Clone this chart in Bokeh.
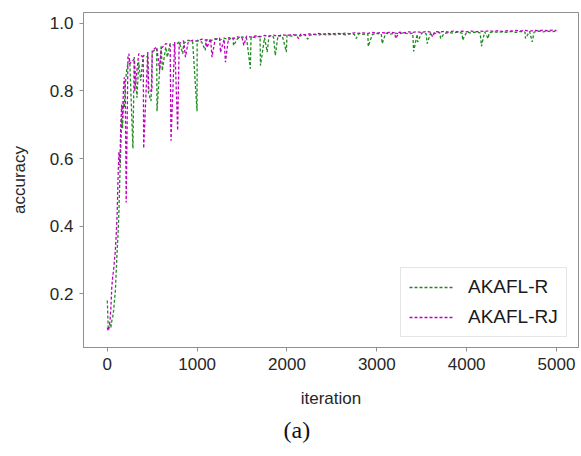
from bokeh.plotting import figure
from bokeh.models import Range1d, Legend, LegendItem, Title, PrintfTickFormatter, BasicTickFormatter
from bokeh.embed import file_html
from bokeh.resources import INLINE

# ---------------- data ----------------
x_ticks = [0, 1000, 2000, 3000, 4000, 5000]
y_ticks = [0.2, 0.4, 0.6, 0.8, 1.0]

# AKAFL-R (green): early rise
r_early_iter = [0, 10, 20, 30, 40, 50, 60, 70, 80, 90, 100, 110, 120, 130, 140, 150, 160, 170, 180, 190, 200, 215, 230]
r_early_acc = [0.18, 0.10, 0.10, 0.11, 0.10, 0.12, 0.13, 0.15, 0.18, 0.21, 0.27, 0.33, 0.38, 0.45, 0.55, 0.63, 0.72, 0.69, 0.77, 0.75, 0.82, 0.86, 0.88]
# AKAFL-R plateau, every 50 iterations from 250 to 5000
r_base_iter = list(range(250, 5001, 50))
r_base_acc = [
    0.89, 0.90, 0.885, 0.905, 0.90, 0.915, 0.925, 0.935, 0.93, 0.94, 0.935, 0.945, 0.94, 0.95, 0.945, 0.95,
    0.945, 0.952, 0.948, 0.955, 0.95, 0.956, 0.952, 0.958, 0.955, 0.96, 0.956, 0.96, 0.958, 0.962, 0.958, 0.963, 0.96, 0.964, 0.961, 0.965,
    0.962, 0.966, 0.963, 0.967, 0.964, 0.967, 0.965, 0.968, 0.965, 0.968, 0.966, 0.969, 0.966, 0.969, 0.967, 0.97, 0.967, 0.969, 0.967, 0.97,
    0.968, 0.971, 0.968, 0.971, 0.969, 0.972, 0.969, 0.971, 0.968, 0.972, 0.969, 0.972, 0.97, 0.973, 0.97, 0.973, 0.971, 0.974, 0.971, 0.974,
    0.971, 0.974, 0.972, 0.975, 0.972, 0.975, 0.973, 0.975, 0.973, 0.976, 0.973, 0.976, 0.974, 0.976, 0.974, 0.977, 0.975, 0.977, 0.975, 0.977,
]
# AKAFL-R sharp drops
r_dip_iter = [285, 330, 372, 457, 487, 553, 612, 668, 840, 999, 1090, 1405, 1592, 1705, 1780, 1870, 1993,
              2230, 2770, 2905, 3060, 3410, 3455, 3560, 3710, 3955, 4165, 4240, 4655, 4730]
r_dip_acc = [0.63, 0.78, 0.83, 0.795, 0.77, 0.74, 0.86, 0.90, 0.91, 0.74, 0.92, 0.934, 0.866, 0.875, 0.915, 0.905, 0.915,
             0.953, 0.955, 0.932, 0.94, 0.917, 0.945, 0.94, 0.955, 0.95, 0.932, 0.955, 0.955, 0.945]

# AKAFL-RJ (magenta): early rise
rj_early_iter = [0, 10, 20, 30, 40, 50, 60, 70, 80, 90, 100, 110, 120, 130, 140, 150, 160, 170, 180, 190, 200, 230, 240]
rj_early_acc = [0.10, 0.09, 0.10, 0.12, 0.16, 0.22, 0.25, 0.27, 0.30, 0.33, 0.38, 0.44, 0.55, 0.62, 0.58, 0.70, 0.76, 0.72, 0.81, 0.84, 0.80, 0.90, 0.91]
rj_base_iter = list(range(250, 5001, 50))
rj_base_acc = [
    0.88, 0.895, 0.91, 0.90, 0.915, 0.92, 0.93, 0.925, 0.94, 0.935, 0.945, 0.94, 0.948, 0.944, 0.95, 0.947,
    0.953, 0.95, 0.955, 0.952, 0.957, 0.953, 0.958, 0.955, 0.96, 0.957, 0.962, 0.959, 0.963, 0.96, 0.964, 0.962, 0.965, 0.962, 0.966, 0.964,
    0.967, 0.965, 0.968, 0.966, 0.969, 0.967, 0.97, 0.968, 0.97, 0.968, 0.971, 0.969, 0.971, 0.969, 0.972, 0.97, 0.972, 0.97, 0.973, 0.971,
    0.973, 0.971, 0.974, 0.972, 0.974, 0.972, 0.975, 0.973, 0.975, 0.973, 0.976, 0.974, 0.976, 0.974, 0.976, 0.974, 0.977, 0.975, 0.977, 0.975,
    0.977, 0.975, 0.977, 0.976, 0.978, 0.976, 0.978, 0.976, 0.978, 0.977, 0.979, 0.977, 0.979, 0.977, 0.979, 0.978, 0.98, 0.978, 0.98, 0.979,
]
rj_dip_iter = [210, 305, 405, 462, 497, 583, 709, 783, 870, 1110, 1165, 1260, 1315, 1520, 2130, 3210, 3620]
rj_dip_acc = [0.47, 0.80, 0.63, 0.80, 0.80, 0.86, 0.653, 0.683, 0.90, 0.928, 0.90, 0.914, 0.885, 0.935, 0.955, 0.955, 0.96]


def merge(*parts):
    pts = []
    for xs, ys in parts:
        pts.extend(zip(xs, ys))
    pts.sort(key=lambda t: t[0])
    return [t[0] for t in pts], [t[1] for t in pts]


r_x, r_y = merge((r_early_iter, r_early_acc), (r_base_iter, r_base_acc), (r_dip_iter, r_dip_acc))
rj_x, rj_y = merge((rj_early_iter, rj_early_acc), (rj_base_iter, rj_base_acc), (rj_dip_iter, rj_dip_acc))

# ---------------- figure ----------------
FONT = "Liberation Sans"
p = figure(width=581, height=456, output_backend="svg", toolbar_location=None,
           x_range=Range1d(-265, 5245), y_range=Range1d(0.041, 1.032),
           min_border_left=83, min_border_right=3, min_border_top=12, min_border_bottom=109)
p.background_fill_color = "white"
p.border_fill_color = "white"
p.grid.visible = False
p.outline_line_color = "#8f8f8f"
p.outline_line_width = 1

rg = p.line(r_x, r_y, line_color="#1f8a1f", line_width=1.3, line_dash="3 2")
rm = p.line(rj_x, rj_y, line_color="#c000c0", line_width=1.3, line_dash="3 2")

for ax in (p.xaxis[0], p.yaxis[0]):
    ax.axis_line_color = "#8f8f8f"
    ax.major_tick_line_color = "#8f8f8f"
    ax.major_tick_out = 4
    ax.major_tick_in = 0
    ax.minor_tick_line_color = None
    ax.major_label_text_font = FONT
    ax.major_label_text_font_size = "17px"
    ax.major_label_text_color = "#262626"
    ax.axis_label_text_font = FONT
    ax.axis_label_text_font_size = "17px"
    ax.axis_label_text_font_style = "normal"
    ax.axis_label_text_color = "#262626"
    ax.major_label_standoff = 6

p.xaxis.ticker = x_ticks
p.yaxis.ticker = y_ticks
p.xaxis.formatter = BasicTickFormatter(use_scientific=False)
p.yaxis.formatter = PrintfTickFormatter(format="%.1f")
p.xaxis.axis_label = "iteration"
p.yaxis.axis_label = "accuracy"
p.xaxis.axis_label_standoff = 16
p.yaxis.axis_label_standoff = 18

legend = Legend(items=[LegendItem(label="AKAFL-R", renderers=[rg]),
                       LegendItem(label="AKAFL-RJ", renderers=[rm])],
                location=(317, 10))
legend.label_text_font = FONT
legend.label_text_font_size = "19px"
legend.label_text_color = "#1a1a1a"
legend.border_line_color = "#cccccc"
legend.border_line_width = 1
legend.background_fill_color = "white"
legend.background_fill_alpha = 1
legend.glyph_width = 45
legend.glyph_height = 22
legend.label_height = 22
legend.label_standoff = 14
legend.padding = 8
legend.spacing = 8
legend.margin = 0
p.add_layout(legend)

cap = Title(text="(a)", align="left", offset=200,
            text_font="Liberation Serif", text_font_size="24px", text_color="#111111",
            text_font_style="normal", standoff=8)
p.add_layout(cap, "below")

open("out.html", "w").write(file_html(p, INLINE))
